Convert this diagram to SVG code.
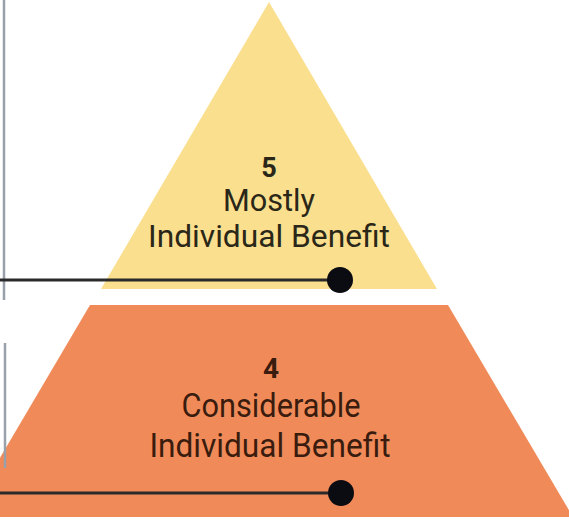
<svg xmlns="http://www.w3.org/2000/svg" width="569" height="520" viewBox="0 0 569 520">
  <style>
    .t { font-family: Roboto, "Liberation Sans", sans-serif; text-anchor: middle; }
    .num { font-weight: bold; }
    .y { fill: #2a2718; }
    .o { fill: #3a1c0e; }
    .conn { stroke: #2a2a2a; stroke-width: 3; fill: none; }
    .dot { fill: #0b0b12; }
    .side { stroke: #9aa0aa; stroke-width: 2.5; fill: none; }
  </style>
  <rect width="569" height="520" fill="#ffffff"/>
  <g id="node-5">
    <polygon points="269,2 101,289 437,289" fill="#f9df8e"/>
    <text class="t num y" x="269" y="177" font-size="27">5</text>
    <text class="t y" x="269" y="211" font-size="31" textLength="92" lengthAdjust="spacingAndGlyphs">Mostly</text>
    <text class="t y" x="269" y="247" font-size="31" textLength="242" lengthAdjust="spacingAndGlyphs">Individual Benefit</text>
  </g>
  <g id="node-4">
    <polygon points="90,305 448,305 573,517 -35,517" fill="#f08b59"/>
    <text class="t num o" x="271" y="378" font-size="28">4</text>
    <text class="t o" x="271" y="417" font-size="34" textLength="179" lengthAdjust="spacingAndGlyphs">Considerable</text>
    <text class="t o" x="270" y="457" font-size="34" textLength="241" lengthAdjust="spacingAndGlyphs">Individual Benefit</text>
  </g>
  <g id="connectors">
    <line class="side" x1="4" y1="0" x2="4" y2="300"/>
    <line class="side" x1="5" y1="343" x2="5" y2="468"/>
    <line class="conn" x1="0" y1="280" x2="340" y2="280"/>
    <circle class="dot" cx="340" cy="280" r="13"/>
    <line class="conn" x1="0" y1="493" x2="341" y2="493" stroke="#2a1208"/>
    <circle class="dot" cx="341" cy="493" r="13"/>
  </g>
</svg>
